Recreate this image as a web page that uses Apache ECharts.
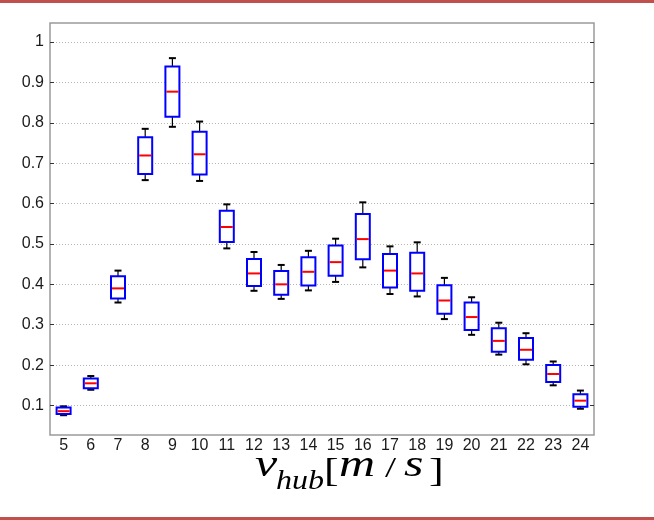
<!DOCTYPE html>
<html>
<head>
    <meta charset="UTF-8">
    <title>v_hub boxplot</title>
    <script src="https://cdn.jsdelivr.net/npm/echarts@6/dist/echarts.min.js"></script>
    <style>
        html, body { margin: 0; padding: 0; background: #fff; }
    </style>
</head>
<body>
<div id="main" style="width: 654px;height:520px;"></div>
<script type="text/javascript">
    // wind speed bins
    const categories = ['5', '6', '7', '8', '9', '10', '11', '12', '13', '14', '15', '16', '17', '18', '19', '20', '21', '22', '23', '24'];
    // box statistics per bin
    const mins    = [0.076, 0.139, 0.355, 0.658, 0.790, 0.656, 0.489, 0.384, 0.364, 0.385, 0.406, 0.442, 0.376, 0.370, 0.314, 0.275, 0.226, 0.202, 0.150, 0.092];
    const q1s     = [0.079, 0.143, 0.365, 0.673, 0.815, 0.672, 0.505, 0.396, 0.374, 0.397, 0.421, 0.462, 0.392, 0.384, 0.327, 0.287, 0.233, 0.213, 0.158, 0.097];
    const medians = [0.086, 0.155, 0.390, 0.719, 0.877, 0.722, 0.542, 0.427, 0.400, 0.431, 0.455, 0.512, 0.434, 0.427, 0.360, 0.319, 0.260, 0.238, 0.178, 0.112];
    const q3s     = [0.095, 0.167, 0.420, 0.764, 0.939, 0.778, 0.582, 0.463, 0.433, 0.467, 0.496, 0.574, 0.475, 0.478, 0.398, 0.355, 0.291, 0.267, 0.200, 0.128];
    const maxs    = [0.098, 0.173, 0.434, 0.785, 0.960, 0.803, 0.598, 0.480, 0.448, 0.483, 0.513, 0.603, 0.494, 0.504, 0.416, 0.368, 0.305, 0.279, 0.209, 0.137];
    const yTicks  = [0.1, 0.2, 0.3, 0.4, 0.5, 0.6, 0.7, 0.8, 0.9, 1];

    const boxData = categories.map((c, i) => [i, mins[i], q1s[i], medians[i], q3s[i], maxs[i]]);

    const myChart = echarts.init(document.getElementById('main'));

    function renderBox(params, api) {
        const x = api.value(0);
        const pMin = api.coord([x, api.value(1)]);
        const pQ1 = api.coord([x, api.value(2)]);
        const pMed = api.coord([x, api.value(3)]);
        const pQ3 = api.coord([x, api.value(4)]);
        const pMax = api.coord([x, api.value(5)]);
        const cx = pMed[0];
        const bw = 14;
        const cap = 7;
        const black = {stroke: '#000', lineWidth: 1.2};
        return {
            type: 'group',
            children: [
                {type: 'line', shape: {x1: cx, y1: pQ3[1], x2: cx, y2: pMax[1]}, style: black},
                {type: 'line', shape: {x1: cx, y1: pQ1[1], x2: cx, y2: pMin[1]}, style: black},
                {type: 'line', shape: {x1: cx - cap / 2, y1: pMax[1], x2: cx + cap / 2, y2: pMax[1]}, style: {stroke: '#000', lineWidth: 2}},
                {type: 'line', shape: {x1: cx - cap / 2, y1: pMin[1], x2: cx + cap / 2, y2: pMin[1]}, style: {stroke: '#000', lineWidth: 2}},
                {
                    type: 'rect',
                    shape: {x: cx - bw / 2, y: pQ3[1], width: bw, height: pQ1[1] - pQ3[1]},
                    style: {fill: '#fff', stroke: '#0000ff', lineWidth: 2}
                },
                {type: 'line', shape: {x1: cx - bw / 2 + 1, y1: pMed[1], x2: cx + bw / 2 - 1, y2: pMed[1]}, style: {stroke: '#ff0000', lineWidth: 2}}
            ]
        };
    }

    const labelFont = {fontFamily: 'Liberation Sans', fontSize: 16, color: '#1a1a1a'};
    const serif = 'Liberation Serif';

    // axis title pieces: element sits on the baseline, text squashed a bit vertically
    function titlePiece(text, x, baseline, size, italic, sy) {
        return {
            type: 'text',
            x: x,
            y: baseline,
            scaleY: sy,
            style: {
                text: text,
                x: 0,
                y: -Math.round(size * 0.78),
                font: (italic ? 'italic ' : '') + size + 'px "' + serif + '"',
                fill: '#000'
            }
        };
    }

    let option = {
        animation: false,
        grid: {
            left: 50, right: 60, top: 23, bottom: 85,
            show: true,
            borderColor: '#9a9a9a',
            borderWidth: 1.5,
            containLabel: false
        },
        xAxis: {
            type: 'category',
            data: categories,
            boundaryGap: true,
            axisLine: {show: false},
            axisTick: {show: false},
            axisLabel: Object.assign({interval: 0, margin: 3}, labelFont),
            splitLine: {show: false}
        },
        yAxis: [
            {
                type: 'value',
                min: 0.027,
                max: 1.047,
                axisLine: {show: false},
                axisTick: {show: true, inside: true, length: 4, customValues: yTicks, lineStyle: {color: '#333'}},
                axisLabel: Object.assign({
                    margin: 6,
                    customValues: yTicks,
                    formatter: v => String(+v.toFixed(1))
                }, labelFont),
                splitLine: {show: true, lineStyle: {color: '#b5b5b5', type: [1, 2], width: 1}}
            },
            {
                type: 'value',
                position: 'right',
                min: 0.027,
                max: 1.047,
                axisLine: {show: false},
                axisTick: {show: true, inside: true, length: 4, customValues: yTicks, lineStyle: {color: '#333'}},
                axisLabel: {show: false},
                splitLine: {show: false}
            }
        ],
        series: [
            {
                type: 'custom',
                renderItem: renderBox,
                encode: {x: 0, y: [1, 2, 3, 4, 5]},
                data: boxData,
                z: 10
            }
        ],
        graphic: [
            {type: 'rect', left: 0, top: 0, shape: {width: 654, height: 3}, style: {fill: '#c0504d'}},
            {type: 'rect', left: 0, top: 517, shape: {width: 654, height: 3}, style: {fill: '#c0504d'}},
            titlePiece('v', 255, 477, 50, true, 0.75),
            titlePiece('hub', 276, 490, 32, true, 0.85),
            titlePiece('[', 324, 481, 44, false, 0.75),
            titlePiece('m', 339, 477, 50, true, 0.75),
            titlePiece('/', 385, 477, 40, false, 0.75),
            titlePiece('s', 404, 477, 50, true, 0.75),
            titlePiece(']', 429, 481, 44, false, 0.75)
        ]
    };

    myChart.setOption(option);
</script>
</body>
</html>
